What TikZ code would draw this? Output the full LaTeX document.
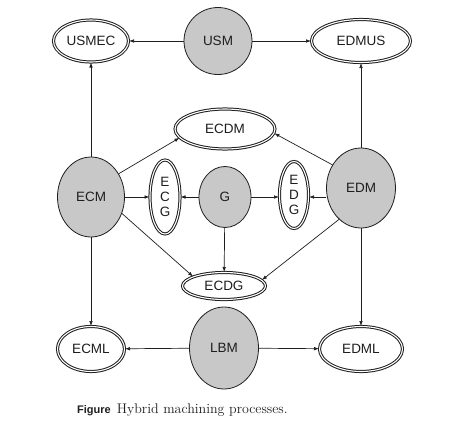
\documentclass[tikz,border=0pt]{standalone}
\usepackage{fontspec}
\newfontfamily\labfont{Liberation Sans}
\usetikzlibrary{shapes.geometric,arrows.meta}
\definecolor{procgray}{RGB}{200,200,200}
\definecolor{inkc}{RGB}{30,30,30}
\begin{document}
\begin{tikzpicture}[x=1pt,y=-1pt,
  base/.style={ellipse,inner sep=0pt,font=\labfont\fontsize{13.5}{15}\selectfont,text=inkc,align=center},
  proc/.style={base,draw=inkc,line width=0.8pt,fill=procgray},
  hyb/.style={base,draw=inkc,line width=1pt,double=white,double distance=1.1pt,fill=white},
  arr/.style={draw=inkc,line width=0.7pt,-{Latex[length=5pt,width=3.6pt]}}]
\useasboundingbox (0,0) rectangle (467,437);
% processes
\node[proc,minimum width=68,minimum height=67] (USM) at (218,41) {USM};
\node[proc,minimum width=67,minimum height=80] (ECM) at (91,197) {ECM};
\node[proc,minimum width=52,minimum height=61] (G) at (225,197) {G};
\node[proc,minimum width=69,minimum height=80] (EDM) at (361,188) {EDM};
\node[proc,minimum width=69,minimum height=82] (LBM) at (224,348) {LBM};
% hybrids
\node[hyb,minimum width=75,minimum height=42] (USMEC) at (91,41) {USMEC};
\node[hyb,minimum width=99,minimum height=43] (EDMUS) at (361,41) {EDMUS};
\node[hyb,minimum width=100,minimum height=40] (ECDM) at (225,129) {ECDM};
\node[hyb,minimum width=30,minimum height=74] (ECG) at (165,197) {E\\C\\G};
\node[hyb,minimum width=29,minimum height=67] (EDG) at (294,195) {E\\D\\G};
\node[hyb,minimum width=83,minimum height=27] (ECDG) at (224,286) {ECDG};
\node[hyb,minimum width=67,minimum height=45] (ECML) at (91,349) {ECML};
\node[hyb,minimum width=83,minimum height=45] (EDML) at (361,349) {EDML};
% connectors
\draw[arr] (USM) -- (USMEC);
\draw[arr] (USM) -- (EDMUS);
\draw[arr] (ECM) -- (USMEC);
\draw[arr] (EDM) -- (EDMUS);
\draw[arr] (ECM.40) -- (ECDM.191);
\draw[arr] (EDM.141) -- (ECDM.355);
\draw[arr] (ECM) -- (ECG);
\draw[arr] (G) -- (ECG);
\draw[arr] (G) -- (EDG.west |- G);
\draw[arr] (EDM.west |- G) -- (EDG.east |- G);
\draw[arr] (ECM.332) -- (ECDG.163);
\draw[arr] (G) -- (ECDG);
\draw[arr] (EDM.235) -- (ECDG.9);
\draw[arr] (ECM) -- (ECML);
\draw[arr] (EDM) -- (EDML);
\draw[arr] (LBM) -- (ECML);
\draw[arr] (LBM) -- (EDML);
% caption
\node[anchor=base west,inner sep=0pt,text=inkc] (cap) at (77,413)
  {{\labfont\bfseries\fontsize{11}{13}\selectfont Figure}\hspace{6pt}{\fontsize{14}{16}\selectfont Hybrid machining processes.}};
\end{tikzpicture}
\end{document}
